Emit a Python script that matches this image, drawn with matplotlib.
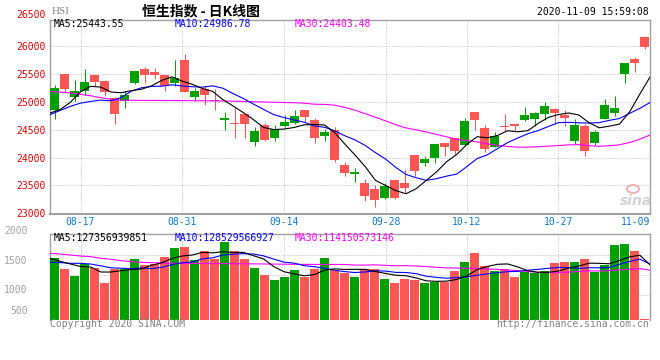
import numpy as np
import matplotlib
matplotlib.use("Agg")
import matplotlib.pyplot as plt
from matplotlib.patches import Ellipse

#---------------------------------------------------- data
dates = ['08-12', '08-13', '08-14', '08-17', '08-18', '08-19', '08-20', '08-21', '08-24', '08-25',
         '08-26', '08-27', '08-28', '08-31', '09-01', '09-02', '09-03', '09-04', '09-07', '09-08',
         '09-09', '09-10', '09-11', '09-14', '09-15', '09-16', '09-17', '09-18', '09-21', '09-22',
         '09-23', '09-24', '09-25', '09-28', '09-29', '09-30', '10-05', '10-06', '10-07', '10-08',
         '10-09', '10-12', '10-14', '10-15', '10-16', '10-19', '10-20', '10-21', '10-22', '10-23',
         '10-27', '10-28', '10-29', '10-30', '11-02', '11-03', '11-04', '11-05', '11-06', '11-09']

opens = [24857, 25500, 25077, 25202, 25482, 25375, 25066, 25018, 25333, 25589,
         25536, 25482, 25333, 25750, 25077, 25232, 25036, 24679, 24619, 24786,
         24286, 24583, 24345, 24560, 24619, 24845, 24679, 24381, 24500, 23863,
         23714, 23548, 23429, 23268, 23589, 23548, 24054, 23905, 23988, 24268,
         24357, 24220, 24821, 24536, 24197, 24571, 24595, 24679, 24691, 24780,
         24869, 24768, 24292, 24560, 24262, 24691, 24798, 25500, 25762, 26155]
highs = [25304, 25500, 25393, 25589, 25482, 25393, 25077, 25196, 25554, 25631,
         25601, 25482, 25750, 25857, 25244, 25274, 25226, 24821, 24905, 24786,
         24548, 24619, 24589, 24768, 24845, 24845, 24708, 24512, 24548, 23917,
         23804, 23607, 23506, 23536, 23607, 23774, 24054, 24024, 24250, 24268,
         24357, 24714, 24821, 24583, 24464, 24786, 24607, 24905, 24821, 24988,
         24887, 24857, 24697, 24607, 24500, 25054, 25107, 25690, 25798, 26179]
lows = [24690, 25167, 25006, 25125, 25274, 25095, 24607, 24881, 25321, 25345,
        25405, 25185, 25274, 25167, 25006, 24935, 24845, 24488, 24345, 24345,
        24202, 24298, 24292, 24548, 24607, 24631, 24256, 24292, 23917, 23667,
        23560, 23220, 23119, 23250, 23250, 23369, 23667, 23845, 23905, 24024,
        24054, 24220, 24488, 24095, 24197, 24470, 24470, 24649, 24560, 24679,
        24607, 24571, 24250, 24024, 24232, 24691, 24738, 25345, 25542, 25952]
closes = [25250, 25226, 25196, 25357, 25357, 25179, 24786, 25125, 25554, 25482,
          25488, 25274, 25435, 25167, 25196, 25113, 25018, 24697, 24601, 24607,
          24482, 24310, 24512, 24643, 24750, 24720, 24345, 24464, 23952, 23720,
          23738, 23310, 23238, 23488, 23268, 23453, 23756, 23982, 24250, 24185,
          24113, 24655, 24667, 24149, 24393, 24542, 24560, 24768, 24798, 24929,
          24798, 24702, 24589, 24113, 24464, 24947, 24887, 25690, 25702, 25988]

ma5 = [24798, 24860, 24990, 25180, 25277, 25263, 25175, 25161, 25200, 25225,
       25287, 25385, 25447, 25369, 25312, 25237, 25186, 25038, 24925, 24807,
       24681, 24539, 24502, 24511, 24539, 24587, 24594, 24584, 24446, 24240,
       24044, 23837, 23592, 23499, 23408, 23351, 23441, 23589, 23742, 23925,
       24057, 24237, 24374, 24354, 24395, 24481, 24462, 24482, 24612, 24719,
       24771, 24799, 24763, 24626, 24533, 24563, 24600, 24820, 25138, 25443]
ma10 = [24768, 24845, 24917, 24976, 25006, 25030, 25017, 25075, 25190, 25251,
        25275, 25280, 25304, 25285, 25269, 25262, 25286, 25243, 25147, 25060,
        24959, 24863, 24770, 24718, 24673, 24634, 24567, 24543, 24479, 24390,
        24316, 24216, 24088, 23973, 23824, 23698, 23639, 23591, 23621, 23667,
        23704, 23839, 23982, 24048, 24160, 24269, 24350, 24428, 24483, 24557,
        24626, 24631, 24623, 24619, 24626, 24667, 24700, 24792, 24882, 24987]
ma30 = [25185, 25173, 25158, 25133, 25108, 25073, 25044, 25028, 25026, 25025,
        25024, 25023, 25022, 25021, 25020, 25018, 25016, 25014, 25011, 25006,
        25001, 24996, 24991, 24987, 24983, 24975, 24956, 24953, 24939, 24900,
        24850, 24786, 24721, 24658, 24589, 24531, 24497, 24459, 24415, 24372,
        24326, 24306, 24280, 24246, 24219, 24200, 24185, 24187, 24194, 24204,
        24215, 24228, 24231, 24213, 24203, 24211, 24229, 24270, 24329, 24404]

# turnover, 100 million HKD
volume = [1433, 1172, 1019, 1280, 1188, 858, 1172, 1172, 1402, 1264,
          1287, 1456, 1663, 1686, 1379, 1586, 1402, 1801, 1586, 1402,
          1203, 1035, 920, 996, 1150, 981, 1172, 1433, 1150, 1073,
          996, 1172, 1172, 943, 858, 943, 920, 843, 881, 881,
          1134, 1341, 1548, 1249, 1134, 1172, 996, 1111, 1073, 1127,
          1318, 1341, 1341, 1402, 1111, 1264, 1732, 1747, 1594, 15]
vol_ma5 = [1418, 1349, 1288, 1230, 1218, 1103, 1103, 1134, 1158, 1174,
           1259, 1316, 1414, 1471, 1494, 1554, 1543, 1571, 1551, 1555,
           1479, 1405, 1229, 1111, 1061, 1016, 1044, 1146, 1177, 1162,
           1165, 1165, 1113, 1071, 1028, 1018, 967, 901, 889, 894,
           932, 1016, 1157, 1231, 1281, 1289, 1220, 1132, 1097, 1096,
           1125, 1194, 1240, 1306, 1303, 1292, 1370, 1451, 1490, 1270]
vol_ma10 = [1326, 1319, 1303, 1303, 1287, 1245, 1200, 1190, 1180, 1196,
            1181, 1210, 1274, 1315, 1334, 1407, 1430, 1493, 1511, 1525,
            1517, 1474, 1400, 1331, 1308, 1248, 1225, 1188, 1144, 1112,
            1091, 1105, 1130, 1124, 1095, 1092, 1066, 1007, 980, 961,
            975, 992, 1029, 1060, 1088, 1111, 1118, 1145, 1164, 1189,
            1207, 1207, 1186, 1202, 1200, 1209, 1282, 1346, 1398, 1287]
vol_ma30 = [1533, 1517, 1494, 1471, 1456, 1418, 1395, 1364, 1341, 1326,
            1318, 1310, 1305, 1303, 1300, 1300, 1298, 1296, 1294, 1292,
            1290, 1288, 1285, 1283, 1281, 1279, 1278, 1278, 1277, 1277,
            1263, 1263, 1268, 1257, 1246, 1249, 1240, 1229, 1212, 1199,
            1194, 1190, 1186, 1172, 1164, 1150, 1136, 1113, 1096, 1087,
            1091, 1101, 1115, 1129, 1127, 1137, 1155, 1166, 1181, 1145]

date_ticks = ['08-17', '08-31', '09-14', '09-28', '10-12', '10-27', '11-09']
price_ticks = [23000, 23500, 24000, 24500, 25000, 25500, 26000]
vol_labels = ['2000', '1500', '1000', '500']

#---------------------------------------------------- style
W, H = 660.0, 360.0
MONO = 'DejaVu Sans Mono'
RED = '#FF5555'
GREEN = '#00A000'
FRAME = '#A0A0A0'
GRID = '#B4B4B4'

def box(left, top, right, bottom):
    return [left / W, 1 - bottom / H, (right - left) / W, (bottom - top) / H]

def fxy(x, y):
    return x / W, 1 - y / H

fig = plt.figure(figsize=(6.6, 3.6), dpi=100)
ax = fig.add_axes(box(50, 20, 650, 214))
axv = fig.add_axes(box(50, 234, 650, 320))

n = len(dates)
slot = np.arange(n)
line_x = slot * n / (n - 1.0)       # MA lines span the full width
tick_x = [line_x[dates.index(d)] for d in date_ticks]

o = np.array(opens, dtype=float)
c = np.array(closes, dtype=float)
col = np.where(c >= o, GREEN, RED)   # HK style: green up, red down

# candles
ax.vlines(slot + 0.45, lows, highs, colors=col, lw=0.72, zorder=2)
ax.bar(slot, np.maximum(np.abs(c - o), 22), width=0.9, bottom=np.minimum(o, c),
       align='edge', color=col, lw=0, zorder=3)
ax.plot(line_x, ma30, color='#FF00FF', lw=0.8, zorder=4)
ax.plot(line_x, ma10, color='#0000FF', lw=0.8, zorder=4)
ax.plot(line_x, ma5, color='black', lw=0.8, zorder=5)

ax.set_xlim(0, n)
ax.set_ylim(22988, 26466)
ax.set_yticks(price_ticks)
ax.set_yticklabels([str(v) for v in price_ticks], color='#E00000', family=MONO, fontsize=7)
ax.set_xticks(tick_x)
ax.set_xticklabels(date_ticks, color='#0A78D2', family=MONO, fontsize=7)
ax.get_xticklabels()[-1].set_ha('right')
ax.tick_params(length=0)
ax.tick_params(axis='y', pad=3)
ax.tick_params(axis='x', pad=2.5)
ax.grid(True, color=GRID, linestyle=(0, (1, 2)), lw=0.72)
ax.set_axisbelow(True)
ax.annotate('26500', xy=(0, 26500), xycoords=('axes fraction', 'data'),
            xytext=(-3, 2), textcoords='offset points', ha='right', va='center',
            color='#E00000', family=MONO, fontsize=7, annotation_clip=False)

# volume
axv.bar(slot, volume, width=0.9, align='edge', color=col, lw=0, zorder=3)
axv.plot(line_x, vol_ma30, color='#FF00FF', lw=0.8, zorder=4)
axv.plot(line_x, vol_ma10, color='#0000FF', lw=0.8, zorder=4)
axv.plot(line_x, vol_ma5, color='black', lw=0.8, zorder=5)
axv.set_xlim(0, n)
axv.set_ylim(0, 1977)
axv.set_xticks(tick_x)
axv.set_xticklabels([])
axv.set_yticks([])
axv.set_yticks([575, 1035, 1494], minor=True)
axv.tick_params(which='both', length=0, labelleft=False)
axv.grid(True, which='major', axis='x', color=GRID, linestyle=(0, (1, 2)), lw=0.72)
axv.grid(True, which='minor', axis='y', color=GRID, linestyle=(0, (1, 2)), lw=0.72)
axv.set_axisbelow(True)
for lab, pos in zip(vol_labels, [2053, 1364, 690, 214]):
    axv.annotate(lab, xy=(0, pos), xycoords=('axes fraction', 'data'),
                 xytext=(-16, 0), textcoords='offset points', ha='right', va='center',
                 color='#A0A0A0', family=MONO, fontsize=7, annotation_clip=False)

for a in (ax, axv):
    for s in a.spines.values():
        s.set_color(FRAME)
        s.set_linewidth(1)
axv.spines['bottom'].set_visible(False)
ax.spines['bottom'].set_linewidth(1.5)

# texts
fig.text(*fxy(201, 11), '恒生指数 - 日K线图', family=['Noto Sans CJK SC', 'DejaVu Sans'],
         fontsize=10, fontweight='bold', ha='center', va='center')
fig.text(*fxy(52, 12), 'HSI', family='Liberation Serif', fontsize=8, color='#808080',
         ha='left', va='center')
fig.text(*fxy(649, 12), '2020-11-09 15:59:08', family=MONO, fontsize=7, ha='right', va='center')

for x, txt, cc in [(54, 'MA5:25443.55', 'black'), (175, 'MA10:24986.78', '#0000FF'),
                   (295, 'MA30:24403.48', '#FF00FF')]:
    fig.text(*fxy(x, 24), txt, family=MONO, fontsize=7, color=cc, ha='left', va='center')
for x, txt, cc in [(54, 'MA5:127356939851', 'black'), (175, 'MA10:128529566927', '#0000FF'),
                   (295, 'MA30:114150573146', '#FF00FF')]:
    fig.text(*fxy(x, 238), txt, family=MONO, fontsize=7, color=cc, ha='left', va='center')

fig.text(*fxy(50, 324), 'Copyright 2020 SINA.COM', family=MONO, fontsize=7,
         color='#808080', ha='left', va='center')
fig.text(*fxy(649, 324), 'http://finance.sina.com.cn', family=MONO, fontsize=7,
         color='#808080', ha='right', va='center')

# sina watermark
fig.add_artist(Ellipse(fxy(633, 189), 12 / W, 8 / H, transform=fig.transFigure,
                       fill=False, edgecolor='#F3B0B0', lw=1.4))
fig.text(*fxy(636, 201), 'sina', family='DejaVu Sans', fontsize=10, fontweight='bold',
         fontstyle='italic', color='#D2D2D2', ha='center', va='center')

plt.savefig("out.png", dpi=100)
plt.close()
